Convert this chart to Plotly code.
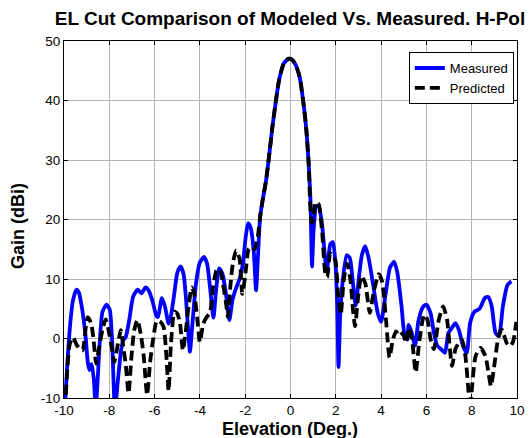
import plotly.graph_objects as go

# Measured (blue)
meas_x = [-9.97, -9.85, -9.7, -9.6, -9.45, -9.35, -9.2, -9.05, -8.95, -8.88, -8.78, -8.68, -8.6, -8.5,
          -8.42, -8.3, -8.12, -7.98, -7.88, -7.75, -7.62, -7.48, -7.38, -7.27, -7.12, -6.95, -6.75,
          -6.58, -6.4, -6.25, -6.1, -5.92, -5.85, -5.68, -5.55, -5.38, -5.28, -5.15, -5.0, -4.85,
          -4.72, -4.62, -4.52, -4.44, -4.33, -4.18, -4.0, -3.82, -3.68, -3.55, -3.4, -3.3, -3.15,
          -3.0, -2.85, -2.7, -2.56, -2.4, -2.25, -2.1, -1.98, -1.87, -1.75, -1.62, -1.52, -1.44,
          -1.34, -1.22, -1.08, -0.95, -0.8, -0.65, -0.5, -0.3, -0.1, 0.05, 0.2, 0.4, 0.58, 0.7,
          0.8, 0.88, 0.95, 1.02, 1.14, 1.24, 1.39, 1.54, 1.61, 1.76, 1.87, 1.98, 2.06, 2.12, 2.2,
          2.3, 2.48, 2.62, 2.75, 2.88, 3.0, 3.15, 3.3, 3.45, 3.65, 3.85, 4.0, 4.2, 4.4, 4.58,
          4.72, 4.9, 5.02, 5.15, 5.22, 5.35, 5.5, 5.65, 5.85, 6.0, 6.18, 6.33, 6.48, 6.65, 6.82,
          6.97, 7.13, 7.28, 7.43, 7.62, 7.78, 7.93, 8.12, 8.35, 8.58, 8.73, 8.88, 9.05, 9.2,
          9.38, 9.58, 9.75]
meas_y = [-12, -4, 3.5, 6.5, 8.2, 7.8, 5.0, 0.5, -4.0, -5.3, -4.3, -7, -12, -6,
          -0.5, 4.5, 5.7, 4.8, 0, -12, -7, -2, -0.3, 0.3, 3.1, 7.0, 8.2,
          7.6, 8.6, 8.0, 6.4, 3.8, 3.6, 6.8, 5.5, 2.5, 3.8, 7.0, 11.0, 12.1,
          10.8, 7.0, 1.5, -2.2, 2.5, 9.0, 12.8, 13.7, 12.5, 8.5, 3.5, 7.5, 11.8,
          10.8, 7.5, 3.1, 6.5, 8.5, 10.0, 12.6, 17.0, 19.4, 18.5, 14.5, 8.1, 13.5,
          20.5, 23.5, 26.5, 30.5, 35.5, 39.8, 43.5, 46.2, 47.0, 46.9, 46.2, 44.0, 39.3, 35.0,
          29.5, 23.5, 12.1, 18.2, 22.3, 22.3, 19.3, 13.0, 11.5, 15.9, 16.2, 12.8, 6.0, -4.8, 4.5,
          9.5, 14.0, 13.5, 9.5, 5.5, 9.5, 14.0, 15.5, 13.5, 9.0, 4.3, 2.8, 7.5, 12.0, 12.9,
          11.0, 5.5, 1.0, -0.2, 2.3, 1.0, -1.2, 3.0, 5.3, 5.7, 4.3, 1.0, -1.2, -1.8, -2.4,
          0.9, 1.8, 2.6, 1.5, -1.3, -2.4, 2.6, 4.5, 5.0, 6.8, 7.0, 5.5, 1.0, 0.4,
          5.5, 9.0, 9.6]

# Predicted (black dashed)
pred_x = [-9.95, -9.85, -9.75, -9.6, -9.45, -9.3, -9.18, -9.05, -8.95, -8.8, -8.7, -8.58, -8.45,
          -8.3, -8.16, -8.0, -7.85, -7.78, -7.6, -7.49, -7.38, -7.27, -7.15, -7.02, -6.9, -6.76,
          -6.6, -6.48, -6.33, -6.2, -6.08, -5.9, -5.75, -5.6, -5.48, -5.38, -5.28, -5.12, -5.0,
          -4.88, -4.75, -4.63, -4.5, -4.36, -4.25, -4.12, -4.0, -3.85, -3.7, -3.56, -3.42, -3.27,
          -3.13, -2.98, -2.85, -2.76, -2.65, -2.55, -2.4, -2.25, -2.13, -2.0, -1.85, -1.72, -1.58,
          -1.45, -1.32, -1.22, -1.08, -0.95, -0.8, -0.65, -0.5, -0.3, -0.1, 0.05, 0.2, 0.4, 0.58,
          0.7, 0.8, 0.87, 0.93, 1.0, 1.1, 1.24, 1.39, 1.54, 1.62, 1.76, 1.9, 1.98, 2.1, 2.22,
          2.35, 2.5, 2.64, 2.76, 2.85, 3.0, 3.13, 3.3, 3.5, 3.68, 3.9, 4.05, 4.22, 4.37, 4.52,
          4.66, 4.81, 4.95, 5.1, 5.24, 5.38, 5.53, 5.68, 5.9, 6.04, 6.19, 6.33, 6.55, 6.74, 6.91,
          7.13, 7.28, 7.43, 7.57, 7.72, 7.84, 7.93, 8.02, 8.17, 8.39, 8.61, 8.75, 8.85, 8.97,
          9.19, 9.33, 9.55, 9.7, 9.83, 9.97]
pred_y = [-12, -5, -1.0, 0.2, -1.0, -1.8, -2.0, 1.5, 3.6, 2.5, 0, -4.2, -1.5,
          1.5, 3.2, 0.8, -2.5, -4.0, -0.5, 1.4, -1.5, -4.5, -9.2, -3, 1.4, 3.1,
          0.5, -3, -9.5, -4, -0.5, 3.0, 2.8, 1.9, -3, -8.8, -1, 4.5, 4.2,
          2.6, -2.0, 1.0, 5.4, 8.6, 7.5, 3.5, -0.6, 2.5, 3.6, 4.3, 8.5, 11.4,
          11.7, 9.2, 6.0, 3.6, 9.0, 12.5, 14.8, 13.4, 7.5, 10.5, 15.0, 15.4, 15.0,
          17.0, 21.0, 23.5, 26.5, 30.5, 35.5, 39.8, 43.5, 46.2, 47.0, 46.9, 46.2, 44.0, 39.3,
          35.0, 29.5, 22.5, 19.5, 19.8, 22.9, 22.6, 18.2, 10.9, 10.3, 14.3, 13.6, 13.2, 7.5, 4.0,
          9.8, 12.6, 10.0, 4.8, 2.1, 7.5, 10.5, 9.3, 4.3, 8.0, 10.8, 9.5, 3.0, -3.2, -0.2,
          1.2, 0.4, 0.9, -0.7, 1.8, -0.7, -5.7, -0.7, 4.0, 3.2, -0.2, -1.8, 3.2, 5.4, 3.2,
          -4.6, -1.8, -0.7, -0.2, -2.9, -8, -12, -8, -3, -1.6, -3, -6, -8, -5.3,
          0.4, 1.5, -0.8, -1.3, -0.5, 2.8]

x_ticks = [-10, -8, -6, -4, -2, 0, 2, 4, 6, 8, 10]
y_ticks = [-10, 0, 10, 20, 30, 40, 50]

FONT = "Liberation Sans, Arial, sans-serif"

fig = go.Figure()
fig.add_trace(go.Scatter(x=meas_x, y=meas_y, mode="lines", name="Measured",
                         line=dict(color="#0000FF", width=3.8, shape="spline", smoothing=0.6)))
fig.add_trace(go.Scatter(x=pred_x, y=pred_y, mode="lines", name="Predicted",
                         line=dict(color="#000000", width=3.8, dash="10px,5px",
                                   shape="spline", smoothing=0.6)))

axis_common = dict(showline=True, linecolor="black", linewidth=1, mirror="ticks",
                   ticks="inside", ticklen=4, tickcolor="black", automargin=False,
                   showgrid=True, gridcolor="#b4b4b4", gridwidth=1, zeroline=False,
                   tickfont=dict(family=FONT, size=13.5, color="black"))

fig.update_layout(
    width=529, height=438,
    margin=dict(l=64, r=12, t=41, b=40),
    paper_bgcolor="white", plot_bgcolor="white",
    title=dict(text="<b>EL Cut Comparison of Modeled Vs. Measured. H-Pol</b>",
               font=dict(family=FONT, size=19, color="black"),
               x=290 / 529, xanchor="center", y=1 - 18 / 438, yanchor="middle"),
    xaxis=dict(range=[-10, 10], tickvals=x_ticks, ticktext=[str(v) for v in x_ticks],
               **axis_common),
    yaxis=dict(range=[-10, 50], tickvals=y_ticks, ticktext=[str(v) for v in y_ticks],
               **axis_common),
    legend=dict(x=0.993, y=0.969, xanchor="right", yanchor="top",
                bgcolor="white", bordercolor="black", borderwidth=1,
                font=dict(family=FONT, size=13, color="black"),
                tracegroupgap=0, itemwidth=30),
    showlegend=True,
    annotations=[
        dict(text="<b>Elevation (Deg.)</b>", xref="paper", yref="paper",
             x=(290 - 64) / 453, y=-(429 - 398) / 357, xanchor="center", yanchor="middle",
             showarrow=False, font=dict(family=FONT, size=18, color="black")),
        dict(text="<b>Gain (dBi)</b>", xref="paper", yref="paper", textangle=-90,
             x=(18 - 64) / 453, y=(398 - 226) / 357, xanchor="center", yanchor="middle",
             showarrow=False, font=dict(family=FONT, size=18, color="black")),
    ],
)

fig.write_html("out.html")
